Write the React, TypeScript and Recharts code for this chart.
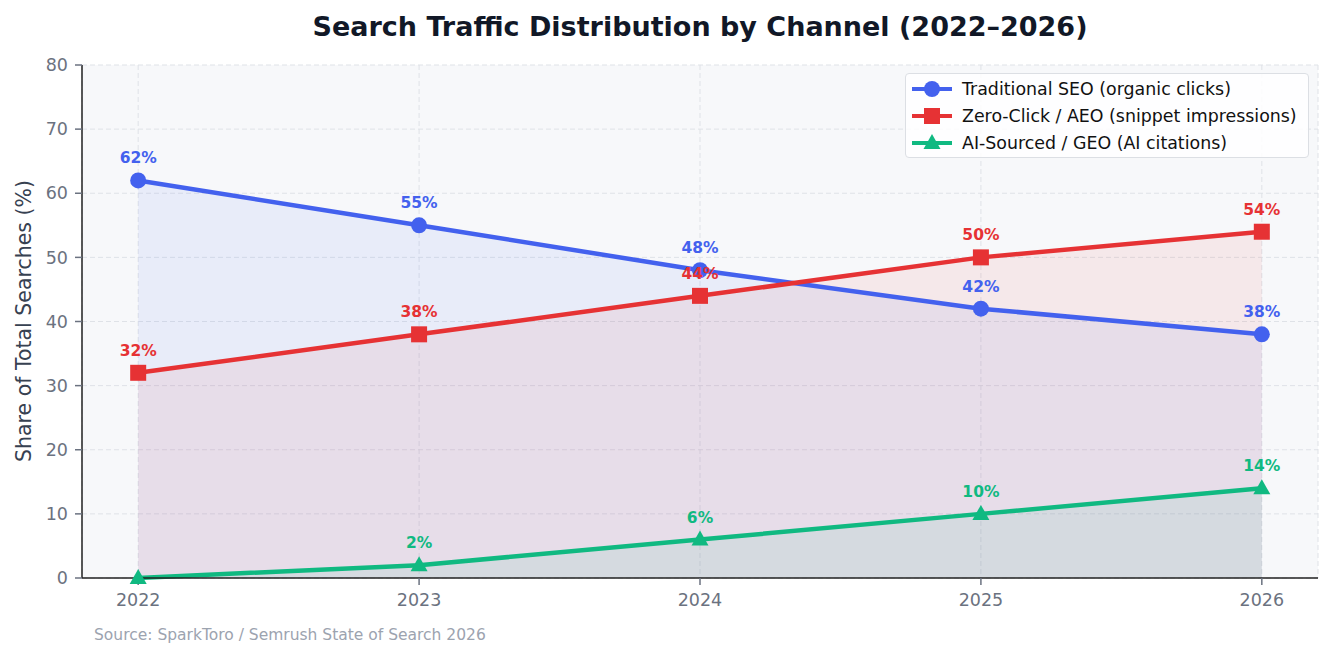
import React from 'react'
import {
  ComposedChart,
  Area,
  Line,
  XAxis,
  YAxis,
  CartesianGrid,
  LabelList,
} from 'recharts'

const years = [2022, 2023, 2024, 2025, 2026]
const seoShare = [62, 55, 48, 42, 38]
const zeroClickShare = [32, 38, 44, 50, 54]
const aiShare = [0, 2, 6, 10, 14]
const yTicks = [0, 10, 20, 30, 40, 50, 60, 70, 80]

const FONT = '"DejaVu Sans", sans-serif'

const series = [
  { key: 'seo', name: 'Traditional SEO (organic clicks)', color: '#4361EE', marker: 'circle' },
  { key: 'zero', name: 'Zero-Click / AEO (snippet impressions)', color: '#E63234', marker: 'square' },
  { key: 'ai', name: 'AI-Sourced / GEO (AI citations)', color: '#10B981', marker: 'triangle' },
]

const data = years.map((year, i) => ({
  year,
  seo: seoShare[i],
  zero: zeroClickShare[i],
  ai: aiShare[i],
}))

function Marker({ cx, cy, kind, color }: { cx: number; cy: number; kind: string; color: string }) {
  if (kind === 'circle') return <circle cx={cx} cy={cy} r={8} fill={color} />
  if (kind === 'square') return <rect x={cx - 8} y={cy - 8} width={16} height={16} fill={color} />
  return (
    <polygon
      points={`${cx},${cy - 9} ${cx - 8.5},${cy + 6} ${cx + 8.5},${cy + 6}`}
      fill={color}
    />
  )
}

function makeDot(kind: string, color: string) {
  return (props: any) => {
    const { cx, cy, index } = props
    if (cx == null || cy == null) return <g key={index} />
    return <Marker key={index} cx={cx} cy={cy} kind={kind} color={color} />
  }
}

// value labels above each point; zero values get no label
function makeLabel(color: string) {
  return (props: any) => {
    const { x, y, value } = props
    if (!value) return null
    return (
      <text
        x={x}
        y={y - 22}
        textAnchor="middle"
        dominantBaseline="central"
        fill={color}
        fontSize={15.5}
        fontWeight="bold"
        fontFamily={FONT}
      >
        {value}%
      </text>
    )
  }
}

function LegendBox() {
  return (
    <div
      style={{
        position: 'absolute',
        left: 905,
        top: 73,
        width: 404,
        height: 85,
        boxSizing: 'border-box',
        background: 'rgba(255,255,255,0.85)',
        border: '1px solid #dcdfe4',
        borderRadius: 4,
        padding: '1px 0 0 6px',
        fontFamily: FONT,
        fontSize: 17.4,
        color: '#111',
      }}
    >
      {series.map((s) => (
        <div key={s.key} style={{ display: 'flex', alignItems: 'center', height: 27 }}>
          <svg width={40} height={20} style={{ marginRight: 10 }}>
            <line x1={0} y1={10} x2={40} y2={10} stroke={s.color} strokeWidth={4} />
            <Marker cx={20} cy={10} kind={s.marker} color={s.color} />
          </svg>
          <span style={{ whiteSpace: 'nowrap' }}>{s.name}</span>
        </div>
      ))}
    </div>
  )
}

export default function App() {
  return (
    <div style={{ position: 'absolute', left: 0, top: 0, width: 1333, height: 658, background: '#fff' }}>
      <div
        style={{
          position: 'absolute',
          top: 11,
          left: 0,
          width: 1400,
          textAlign: 'center',
          fontFamily: FONT,
          fontWeight: 'bold',
          fontSize: 27,
          color: '#111827',
        }}
      >
        Search Traffic Distribution by Channel (2022–2026)
      </div>
      <ComposedChart
        width={1333}
        height={658}
        data={data}
        margin={{ top: 65, right: 15, left: 10, bottom: 40 }}
      >
        <CartesianGrid
          fill="#f7f8fa"
          fillOpacity={1}
          stroke="#dfe2e7"
          strokeDasharray="5 3"
        />
        <XAxis
          type="number"
          dataKey="year"
          domain={[2021.8, 2026.2]}
          ticks={years}
          allowDataOverflow
          height={40}
          tick={{ fill: '#6b7280', fontSize: 17.5, fontFamily: FONT, dy: 7 }}
          tickLine={{ stroke: '#6b7280', strokeWidth: 1.5 }}
          tickSize={7}
          axisLine={{ stroke: '#222', strokeWidth: 1.5 }}
        />
        <YAxis
          domain={[0, 80]}
          ticks={yTicks}
          width={72}
          tick={{ fill: '#6b7280', fontSize: 17.5, fontFamily: FONT, dx: -5 }}
          tickLine={{ stroke: '#6b7280', strokeWidth: 1.5 }}
          tickSize={7}
          axisLine={{ stroke: '#222', strokeWidth: 1.5 }}
        />
        {series.map((s) => (
          <Area
            key={`area-${s.key}`}
            type="linear"
            dataKey={s.key}
            stroke="none"
            fill={s.color}
            fillOpacity={0.08}
            isAnimationActive={false}
            legendType="none"
            activeDot={false}
          />
        ))}
        {series.map((s) => (
          <Line
            key={s.key}
            type="linear"
            dataKey={s.key}
            name={s.name}
            stroke={s.color}
            strokeWidth={4.5}
            dot={makeDot(s.marker, s.color)}
            activeDot={false}
            isAnimationActive={false}
          >
            <LabelList dataKey={s.key} content={makeLabel(s.color)} />
          </Line>
        ))}
        <text
          x={24}
          y={321}
          transform="rotate(-90 24 321)"
          textAnchor="middle"
          dominantBaseline="central"
          fill="#374151"
          fontSize={20.5}
          fontFamily={FONT}
        >
          Share of Total Searches (%)
        </text>
        <text x={94} y={640} fill="#9ca3af" fontSize={15.5} fontFamily={FONT}>
          Source: SparkToro / Semrush State of Search 2026
        </text>
      </ComposedChart>
      <LegendBox />
    </div>
  )
}
